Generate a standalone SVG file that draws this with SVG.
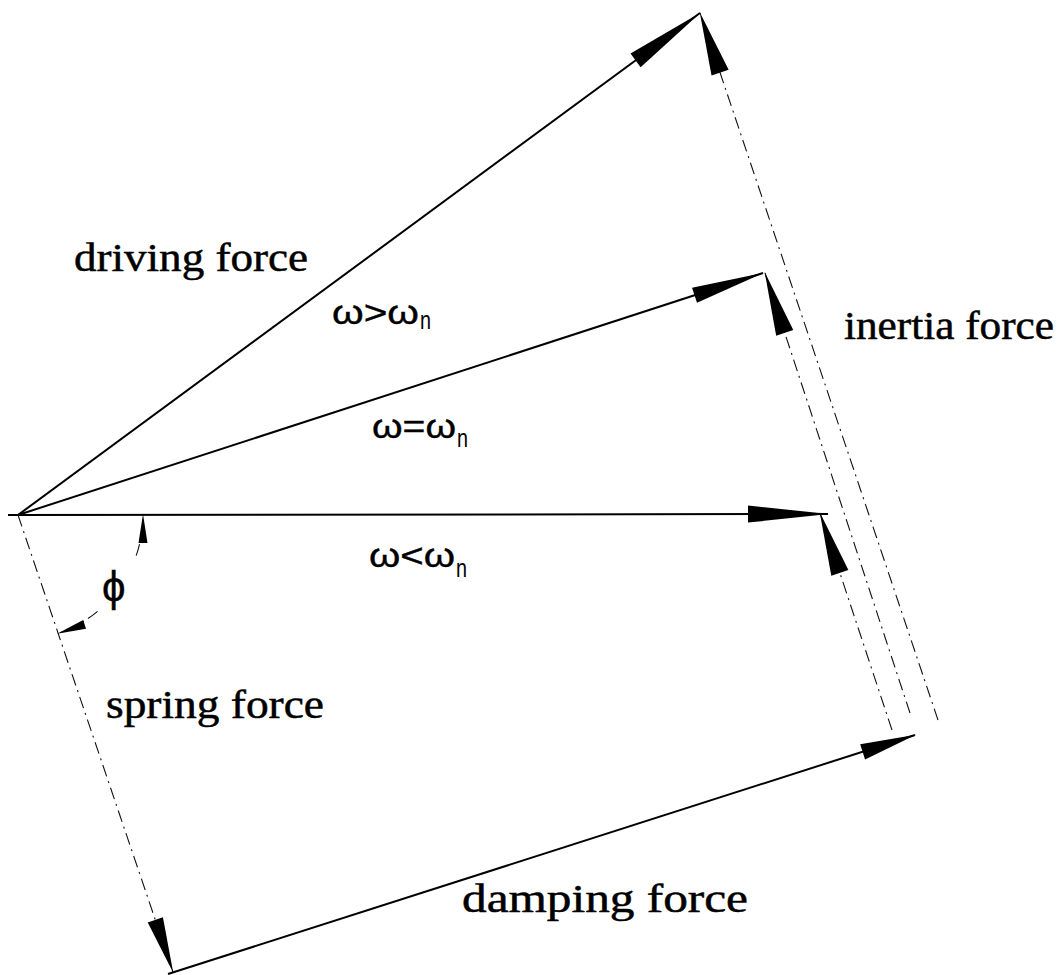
<svg xmlns="http://www.w3.org/2000/svg" width="1060" height="975" viewBox="0 0 1060 975">
<style>
.solid{fill:none;stroke:#000;stroke-width:2}
.dd{fill:none;stroke:#111;stroke-width:1.1;stroke-dasharray:12 5 2 5}
.lbl{font-family:"Liberation Serif","Times New Roman",serif;font-size:40px;fill:#000;stroke:#000;stroke-width:0.5}
.om{font-family:"Liberation Sans",Arial,sans-serif;font-size:34px;fill:#000;stroke:#000;stroke-width:0.4}
.sub{font-family:"Liberation Sans",Arial,sans-serif;font-size:26px;fill:#000}
</style>
<defs>
<marker id="ah80" markerUnits="userSpaceOnUse" orient="auto" markerWidth="86" markerHeight="22" viewBox="-84 -11 86 22" refX="0" refY="0"><path d="M1,0 L-80,-8.5 L-80,8.5 Z" fill="#000"/></marker>
<marker id="ah72" markerUnits="userSpaceOnUse" orient="auto" markerWidth="78" markerHeight="22" viewBox="-76 -11 78 22" refX="0" refY="0"><path d="M1,0 L-72,-8 L-72,8 Z" fill="#000"/></marker>
<marker id="ah62" markerUnits="userSpaceOnUse" orient="auto" markerWidth="70" markerHeight="22" viewBox="-67 -11 70 22" refX="0" refY="0"><path d="M1,0 L-63,-9 L-63,9 Z" fill="#000"/></marker>
<marker id="ah55" markerUnits="userSpaceOnUse" orient="auto" markerWidth="62" markerHeight="22" viewBox="-59 -11 62 22" refX="0" refY="0"><path d="M1,0 L-55,-8 L-55,8 Z" fill="#000"/></marker>
<marker id="ah28" markerUnits="userSpaceOnUse" orient="auto" markerWidth="34" markerHeight="14" viewBox="-32 -7 34 14" refX="0" refY="0"><path d="M1,0 L-28,-4.5 L-28,4.5 Z" fill="#000"/></marker>
</defs>
<g id="connectors">
<path class="solid" d="M18,515 L700,13" marker-end="url(#ah80)"/>
<path class="solid" d="M18,515 L763,273" marker-end="url(#ah72)"/>
<path class="solid" d="M8,515 L828,514" marker-end="url(#ah80)"/>
<path class="dd" d="M938,720 L700,13" marker-end="url(#ah62)"/>
<path class="dd" d="M910,713 L765,273" marker-end="url(#ah62)"/>
<path class="dd" d="M892,730 L820,513" marker-end="url(#ah62)"/>
<path class="dd" d="M18,515 L173,972" marker-end="url(#ah55)"/>
<path class="solid" d="M168,974 L915,735" marker-end="url(#ah55)"/>
<path class="dd" d="M136.2,555.6 A125,125 0 0 0 143,515" marker-end="url(#ah28)"/>
<path class="dd" d="M97.6,611.3 A125,125 0 0 1 58.1,633.4" marker-end="url(#ah28)"/>
</g>
<g id="label-driving"><text class="lbl" x="74" y="271" textLength="234" lengthAdjust="spacingAndGlyphs">driving force</text></g>
<g id="label-inertia"><text class="lbl" x="844" y="339" textLength="210" lengthAdjust="spacingAndGlyphs">inertia force</text></g>
<g id="label-spring"><text class="lbl" x="106" y="718" textLength="218" lengthAdjust="spacingAndGlyphs">spring force</text></g>
<g id="label-damping"><text class="lbl" x="462" y="912" textLength="286" lengthAdjust="spacingAndGlyphs">damping force</text></g>
<g id="label-gt"><text class="om" x="332" y="324" textLength="87" lengthAdjust="spacingAndGlyphs">ω&gt;ω</text><text class="sub" x="420" y="329" textLength="11" lengthAdjust="spacingAndGlyphs">n</text></g>
<g id="label-eq"><text class="om" x="372" y="438" textLength="84" lengthAdjust="spacingAndGlyphs">ω=ω</text><text class="sub" x="457" y="447" textLength="11" lengthAdjust="spacingAndGlyphs">n</text></g>
<g id="label-lt"><text class="om" x="369" y="567" textLength="86" lengthAdjust="spacingAndGlyphs">ω&lt;ω</text><text class="sub" x="456" y="577" textLength="11" lengthAdjust="spacingAndGlyphs">n</text></g>
<g id="label-phi"><text class="om" x="102" y="601" style="font-size:42px">ϕ</text></g>
</svg>
